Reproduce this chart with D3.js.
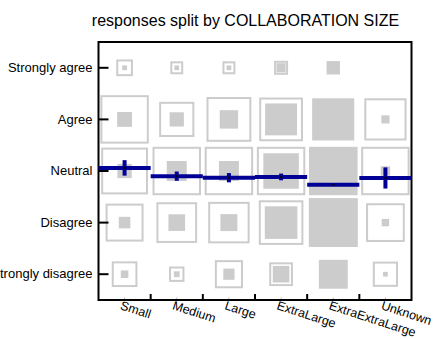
<!DOCTYPE html>
<html><head><meta charset="utf-8">
<script src="https://cdn.jsdelivr.net/npm/d3@7"></script>
<style>
body{margin:0;background:#fff}
svg{display:block}
text{font-family:"Liberation Sans",Arial,Helvetica,sans-serif;fill:#000}
</style>
</head><body>
<svg id="chart" width="442" height="339"></svg>
<script>
// ---------- data ----------
const chartTitle = "responses split by COLLABORATION SIZE";
const sizes = ["Small","Medium","Large","ExtraLarge","ExtraExtraLarge","Unknown"];
const levels = ["Strongly agree","Agree","Neutral","Disagree","Strongly disagree"];
const levelScores = [5,4,3,2,1];
// estimated response counts per collaboration size, in the order of `levels`
const countsSmall           = [1,   10,  9.3, 6,   2.6];
const countsMedium          = [1,   9.2, 18,  12.5, 1.5];
const countsLarge           = [1,   15.3, 18, 13,  5.7];
const countsExtraLarge      = [3.8, 46,  57,  48,  12.5];
const countsExtraExtraLarge = [6.5, 79,  106, 108, 36];
const countsUnknown         = [0,   3,   4,   2.5, 1];
// mean response score (5 = Strongly agree ... 1 = Strongly disagree) and its error
const meanScore = [3.06, 2.90, 2.87, 2.885, 2.735, 2.865];
const meanError = [0.15, 0.09, 0.09, 0.065, 0.02, 0.205];

const countsBySize = [countsSmall, countsMedium, countsLarge, countsExtraLarge, countsExtraExtraLarge, countsUnknown];

// ---------- layout ----------
const svg = d3.select("#chart");
const L = 98.5, R = 411.5, T = 42, B = 300;
const grey = "#cccccc", blue = "#000096";

const x = d3.scaleBand().domain(sizes).range([L, R]);
const y = d3.scaleBand().domain(levels).range([T, B]);
const yScore = d3.scaleLinear().domain([5, 1])
  .range([y(levels[0]) + y.bandwidth()/2, y(levels[4]) + y.bandwidth()/2]);
const innerSide = d3.scaleSqrt().domain([0, 100]).range([0, 47]);
const outerMax = 0.9 * Math.min(x.bandwidth(), y.bandwidth());

// title
svg.append("text").attr("x", 245.5).attr("y", 26)
  .attr("text-anchor", "middle").style("font-size", "16px").text(chartTitle);

// cells
const cells = [];
sizes.forEach((s, i) => {
  const col = countsBySize[i];
  const colMax = d3.max(col);
  const outerSide = d3.scaleSqrt().domain([0, colMax]).range([0, outerMax]);
  col.forEach((c, j) => {
    cells.push({size: s, level: levels[j], count: c, outer: outerSide(c), inner: innerSide(c)});
  });
});
const g = svg.append("g");
g.selectAll("rect.outer").data(cells.filter(d => d.count > 0)).join("rect")
  .attr("class", "outer")
  .attr("x", d => x(d.size) + x.bandwidth()/2 - d.outer/2)
  .attr("y", d => y(d.level) + y.bandwidth()/2 - d.outer/2)
  .attr("width", d => d.outer).attr("height", d => d.outer)
  .attr("fill", "none").attr("stroke", grey).attr("stroke-width", 2);
g.selectAll("rect.inner").data(cells.filter(d => d.count > 0)).join("rect")
  .attr("class", "inner")
  .attr("x", d => x(d.size) + x.bandwidth()/2 - d.inner/2)
  .attr("y", d => y(d.level) + y.bandwidth()/2 - d.inner/2)
  .attr("width", d => d.inner).attr("height", d => d.inner)
  .attr("fill", grey);

// frame
svg.append("rect").attr("x", L).attr("y", T).attr("width", R - L).attr("height", B - T)
  .attr("fill", "none").attr("stroke", "#000").attr("stroke-width", 2);

// y axis (ticks inward)
const yAxis = d3.axisLeft(y).tickSize(0).tickPadding(6);
const ya = svg.append("g").attr("transform", `translate(${L},0)`).call(yAxis);
ya.select(".domain").remove();
ya.selectAll("text").style("font-size", "13px").attr("x", -6);
svg.append("g").selectAll("line").data(levels).join("line")
  .attr("x1", L).attr("x2", L + 10)
  .attr("y1", d => y(d) + y.bandwidth()/2).attr("y2", d => y(d) + y.bandwidth()/2)
  .attr("stroke", "#000").attr("stroke-width", 2);

// x axis: ticks at band boundaries (inward), minor marks at centres
svg.append("g").selectAll("line").data(sizes.slice(1)).join("line")
  .attr("x1", d => x(d)).attr("x2", d => x(d))
  .attr("y1", B).attr("y2", B - 6)
  .attr("stroke", "#000").attr("stroke-width", 2);
svg.append("g").selectAll("line").data(sizes).join("line")
  .attr("x1", d => x(d) + x.bandwidth()/2).attr("x2", d => x(d) + x.bandwidth()/2)
  .attr("y1", B - 1).attr("y2", B - 2.5)
  .attr("stroke", "#bbb").attr("stroke-width", 1);
svg.append("g").selectAll("text").data(sizes).join("text")
  .attr("transform", d => `translate(${x(d) + x.bandwidth()/2 - 5},309) rotate(18)`)
  .style("font-size", "12.5px").text(d => d);

// mean lines with error bars
const means = sizes.map((s, i) => ({size: s, m: meanScore[i], e: meanError[i]}));
const mg = svg.append("g");
mg.selectAll("line.mean").data(means).join("line").attr("class", "mean")
  .attr("x1", d => x(d.size)).attr("x2", d => x(d.size) + x.bandwidth())
  .attr("y1", d => yScore(d.m)).attr("y2", d => yScore(d.m))
  .attr("stroke", blue).attr("stroke-width", 4);
mg.selectAll("line.err").data(means).join("line").attr("class", "err")
  .attr("x1", d => x(d.size) + x.bandwidth()/2).attr("x2", d => x(d.size) + x.bandwidth()/2)
  .attr("y1", d => yScore(d.m + d.e)).attr("y2", d => yScore(d.m - d.e))
  .attr("stroke", blue).attr("stroke-width", 4);
mg.selectAll("circle").data(means).join("circle")
  .attr("cx", d => x(d.size) + x.bandwidth()/2).attr("cy", d => yScore(d.m))
  .attr("r", 1.2).attr("fill", "#000");
</script>
</body></html>
